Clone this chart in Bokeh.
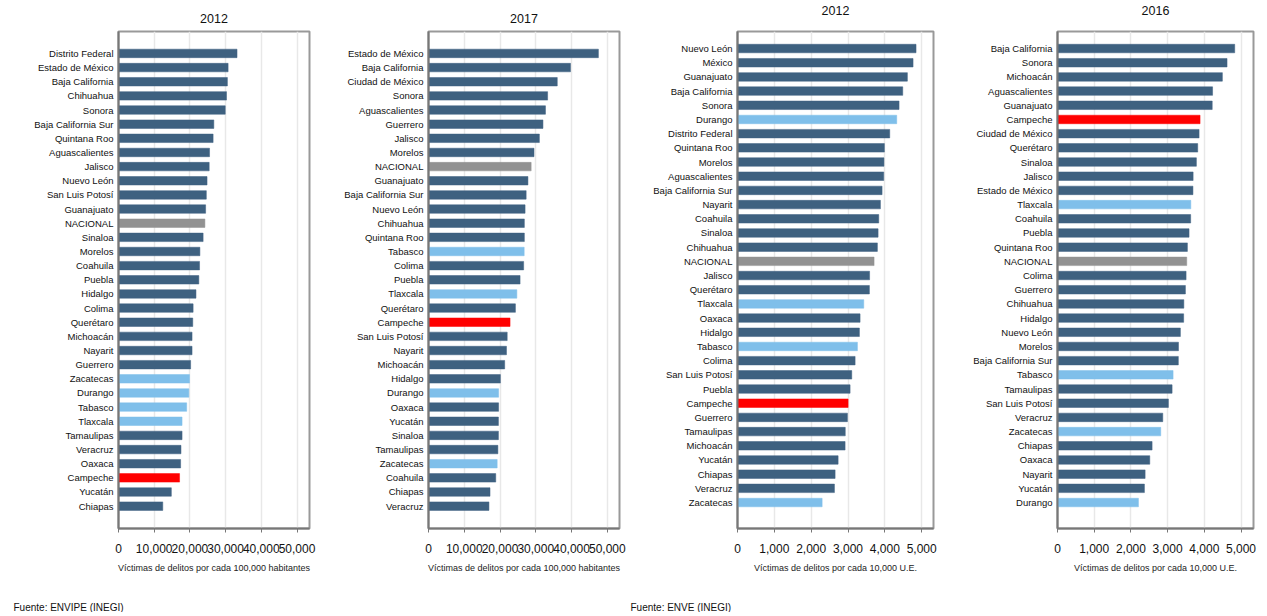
from bokeh.plotting import figure
from bokeh.layouts import row
from bokeh.models import (Range1d, Title, NumeralTickFormatter, FixedTicker, ColumnDataSource)
from bokeh.embed import file_html
from bokeh.resources import INLINE

# ---------------- data (top to bottom) ----------------
states_a = ["Distrito Federal", "Estado de México", "Baja California", "Chihuahua", "Sonora",
            "Baja California Sur", "Quintana Roo", "Aguascalientes", "Jalisco", "Nuevo León",
            "San Luis Potosí", "Guanajuato", "NACIONAL", "Sinaloa", "Morelos", "Coahuila", "Puebla",
            "Hidalgo", "Colima", "Querétaro", "Michoacán", "Nayarit", "Guerrero", "Zacatecas",
            "Durango", "Tabasco", "Tlaxcala", "Tamaulipas", "Veracruz", "Oaxaca", "Campeche",
            "Yucatán", "Chiapas"]
vals_a = [33200, 30700, 30500, 30250, 29900, 26700, 26500, 25500, 25400, 24800, 24600, 24400,
          24200, 23700, 22800, 22700, 22500, 21700, 20900, 20800, 20600, 20600, 20200, 19900,
          19700, 19100, 17800, 17800, 17500, 17400, 17100, 14800, 12400]

states_b = ["Estado de México", "Baja California", "Ciudad de México", "Sonora", "Aguascalientes",
            "Guerrero", "Jalisco", "Morelos", "NACIONAL", "Guanajuato", "Baja California Sur",
            "Nuevo León", "Chihuahua", "Quintana Roo", "Tabasco", "Colima", "Puebla", "Tlaxcala",
            "Querétaro", "Campeche", "San Luis Potosí", "Nayarit", "Michoacán", "Hidalgo", "Durango",
            "Oaxaca", "Yucatán", "Sinaloa", "Tamaulipas", "Zacatecas", "Coahuila", "Chiapas",
            "Veracruz"]
vals_b = [47500, 39700, 36000, 33300, 32700, 32000, 31000, 29500, 28700, 27800, 27300, 27000,
          26800, 26800, 26750, 26600, 25600, 24700, 24300, 22800, 22000, 21800, 21300, 20100,
          19600, 19600, 19550, 19550, 19400, 19200, 18800, 17200, 16900]

states_c = ["Nuevo León", "México", "Guanajuato", "Baja California", "Sonora", "Durango",
            "Distrito Federal", "Quintana Roo", "Morelos", "Aguascalientes", "Baja California Sur",
            "Nayarit", "Coahuila", "Sinaloa", "Chihuahua", "NACIONAL", "Jalisco", "Querétaro",
            "Tlaxcala", "Oaxaca", "Hidalgo", "Tabasco", "Colima", "San Luis Potosí", "Puebla",
            "Campeche", "Guerrero", "Tamaulipas", "Michoacán", "Yucatán", "Chiapas", "Veracruz",
            "Zacatecas"]
vals_c = [4846, 4765, 4611, 4485, 4385, 4322, 4132, 3987, 3975, 3969, 3924, 3879, 3834, 3816,
          3797, 3707, 3585, 3580, 3427, 3327, 3309, 3255, 3192, 3101, 3056, 3002, 2984, 2925,
          2920, 2731, 2649, 2631, 2297]

states_d = ["Baja California", "Sonora", "Michoacán", "Aguascalientes", "Guanajuato", "Campeche",
            "Ciudad de México", "Querétaro", "Sinaloa", "Jalisco", "Estado de México", "Tlaxcala",
            "Coahuila", "Puebla", "Quintana Roo", "NACIONAL", "Colima", "Guerrero", "Chihuahua",
            "Hidalgo", "Nuevo León", "Morelos", "Baja California Sur", "Tabasco", "Tamaulipas",
            "San Luis Potosí", "Veracruz", "Zacatecas", "Chiapas", "Oaxaca", "Nayarit", "Yucatán",
            "Durango"]
vals_d = [4828, 4619, 4492, 4225, 4215, 3884, 3857, 3820, 3784, 3695, 3690, 3632, 3628, 3584,
          3539, 3521, 3503, 3485, 3442, 3437, 3348, 3296, 3292, 3149, 3122, 3022, 2868, 2813,
          2577, 2514, 2387, 2368, 2205]

light_states = ["Zacatecas", "Durango", "Tabasco", "Tlaxcala"]
focus_state = "Campeche"
national = "NACIONAL"

ticks_hab = [0, 10000, 20000, 30000, 40000, 50000]
ticks_ue = [0, 1000, 2000, 3000, 4000, 5000]

DARK = "#3e6180"
LIGHT = "#7fbfea"
RED = "#ff0000"
GREY = "#929292"
FONT = "Liberation Sans"


def color_for(s):
    if s == national:
        return GREY
    if s == focus_state:
        return RED
    if s in light_states:
        return LIGHT
    return DARK


def panel(title, states, vals, xmax, ticks, xlabel, width, bl, br, pad_top, pad_bottom,
          title_standoff, footnote=None, foot_offset=0):
    n = len(states)
    ypos = [n - 1 - i for i in range(n)]  # first state on top
    src = ColumnDataSource(dict(y=ypos, val=vals, color=[color_for(s) for s in states]))
    p = figure(width=width, height=612,
               y_range=Range1d(-pad_bottom, n - 1 + pad_top),
               x_range=Range1d(0, xmax),
               output_backend="svg", toolbar_location=None,
               min_border_left=bl, min_border_right=br, min_border_top=31, min_border_bottom=84)
    p.hbar(y="y", left=0, right="val", height=0.6, fill_color="color",
           line_color="color", line_width=0.5, source=src)

    p.title.text = title
    p.title.align = "center"
    p.title.text_font = FONT
    p.title.text_font_size = "12.5px"
    p.title.text_font_style = "normal"
    p.title.text_color = "#111111"
    p.title.standoff = title_standoff

    p.outline_line_color = "#999999"
    p.outline_line_width = 2
    p.background_fill_color = "white"
    p.border_fill_color = "white"

    p.ygrid.visible = False
    p.xgrid.grid_line_color = "#e8e8e8"
    p.xgrid.grid_line_width = 1.5

    xa = p.xaxis[0]
    xa.ticker = FixedTicker(ticks=ticks)
    xa.formatter = NumeralTickFormatter(format="0,0")
    xa.minor_tick_line_color = None
    xa.major_tick_out = 4
    xa.major_tick_in = 0
    xa.major_tick_line_color = "#777777"
    xa.axis_line_color = "#777777"
    xa.axis_line_width = 2
    xa.major_label_text_font = FONT
    xa.major_label_text_font_size = "12px"
    xa.major_label_text_color = "#111111"
    xa.major_label_standoff = 11
    # footnote panels: two blank lines under the axis label keep room above the source note
    xa.axis_label = xlabel + ("\n\n" if footnote else "")
    xa.axis_label_text_font = FONT
    xa.axis_label_text_font_size = "9px"
    xa.axis_label_text_font_style = "normal"
    xa.axis_label_text_color = "#222222"
    xa.axis_label_standoff = 7

    ya = p.yaxis[0]
    ya.ticker = FixedTicker(ticks=ypos)
    ya.major_label_overrides = {y: s for y, s in zip(ypos, states)}
    ya.major_tick_out = 0
    ya.major_tick_in = 0
    ya.minor_tick_line_color = None
    ya.axis_line_color = "#777777"
    ya.axis_line_width = 2
    ya.major_label_text_font = FONT
    ya.major_label_text_font_size = "9.5px"
    ya.major_label_text_color = "#111111"
    ya.major_label_standoff = 5

    if footnote:
        p.add_layout(Title(text=footnote, align="left", offset=foot_offset,
                           standoff=0, text_font=FONT, text_font_size="10px",
                           text_font_style="normal", text_color="#111111"), "below")
    return p


xlab_hab = "Víctimas de delitos por cada 100,000 habitantes"
xlab_ue = "Víctimas de delitos por cada 10,000 U.E."

p1 = panel("2012", states_a, vals_a, 53500, ticks_hab, xlab_hab, 318, 118, 9, 1.55, 1.58, 18,
           footnote="Fuente: ENVIPE (INEGI)", foot_offset=-105)
p2 = panel("2017", states_b, vals_b, 53400, ticks_hab, xlab_hab, 310, 110, 9, 1.55, 1.58, 18)
p3 = panel("2012\n", states_c, vals_c, 5320, ticks_ue, xlab_ue, 317, 109, 12, 1.2, 1.83, 0,
           footnote="Fuente: ENVE (INEGI)", foot_offset=-107)
p4 = panel("2016\n", states_d, vals_d, 5340, ticks_ue, xlab_ue, 317, 112, 9, 1.2, 1.83, 0)

layout = row(p1, p2, p3, p4)
open("out.html", "w").write(file_html(layout, INLINE))
